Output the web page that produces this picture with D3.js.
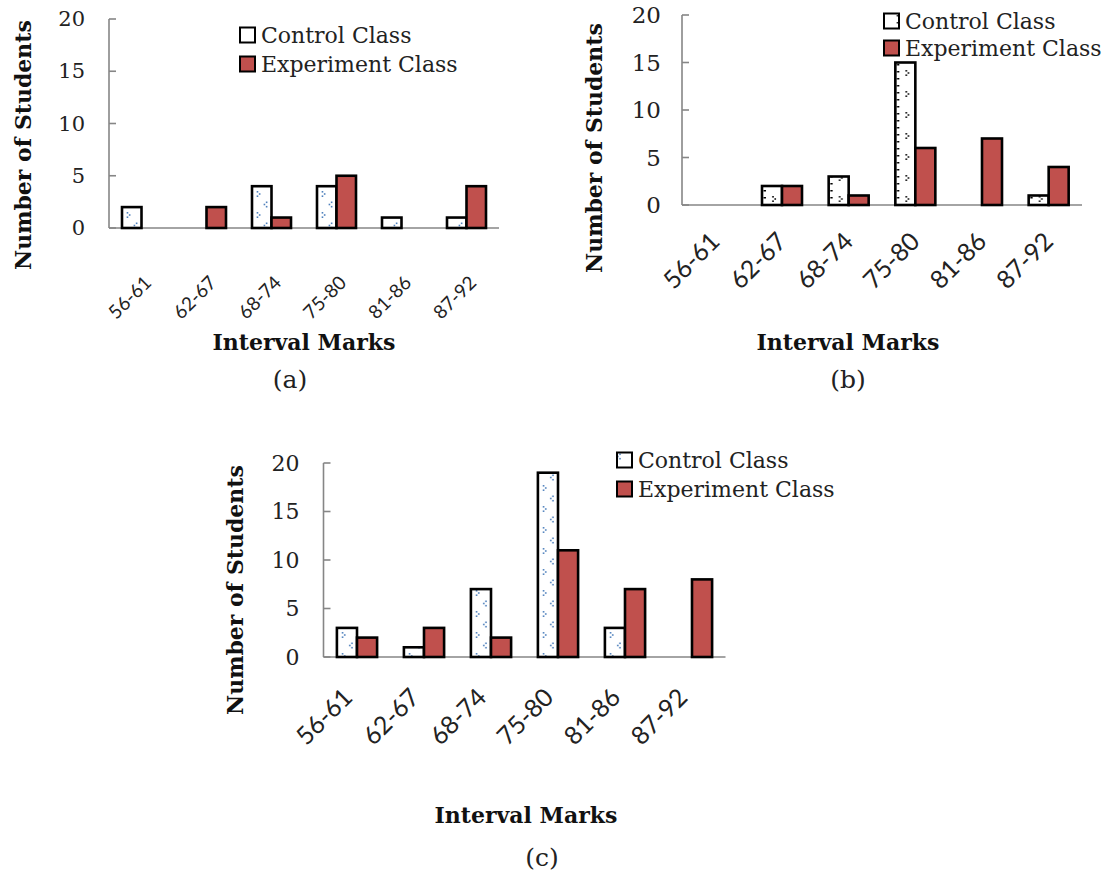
<!DOCTYPE html>
<html><head><meta charset="utf-8">
<script src="https://cdn.jsdelivr.net/npm/d3@7"></script>
<style>
  body { margin: 0; background: #fff; }
  svg { display: block; }
</style>
</head><body>
<svg id="chart" width="1109" height="884"></svg>
<script>
// Score intervals and student counts for the three class comparisons
const intervals = ["56-61", "62-67", "68-74", "75-80", "81-86", "87-92"];
const yTicks = [0, 5, 10, 15, 20];
const seriesNames = ["Control Class", "Experiment Class"];
const panelTags = ["(a)", "(b)", "(c)"];
const yTitle = "Number of Students";
const xTitle = "Interval Marks";

const controlA = [2, 0, 4, 4, 1, 1];
const experimentA = [0, 2, 1, 5, 0, 4];
const controlB = [0, 2, 3, 15, 0, 1];
const experimentB = [0, 2, 1, 6, 7, 4];
const controlC = [3, 1, 7, 19, 3, 0];
const experimentC = [2, 3, 2, 11, 7, 8];

// Panel geometry
const panels = [
  { control: controlA, experiment: experimentA, tag: panelTags[0],
    left: 109, right: 499, zero: 228, top: 19,
    tickFont: 19, tickDx: 11, tickDy: 56,
    yLabelGap: 24, yFont: 21, yTitleX: 23, yTitleY: 145,
    xTitleX: 304, xTitleY: 342, tagX: 290, tagY: 379,
    legX: 240, legY: [35, 64], dot: "#4f81bd", edgeMarks: false },
  { control: controlB, experiment: experimentB, tag: panelTags[1],
    left: 682, right: 1082, zero: 205, top: 15,
    tickFont: 25, tickDx: 6, tickDy: 38,
    yLabelGap: 21, yFont: 23, yTitleX: 594, yTitleY: 148,
    xTitleX: 848, xTitleY: 342, tagX: 848, tagY: 379,
    legX: 884, legY: [21, 48], dot: "#000", edgeMarks: true },
  { control: controlC, experiment: experimentC, tag: panelTags[2],
    left: 323.5, right: 725.5, zero: 657, top: 463,
    tickFont: 25, tickDx: -3, tickDy: 42,
    yLabelGap: 24, yFont: 22, yTitleX: 235, yTitleY: 590,
    xTitleX: 526, xTitleY: 815, tagX: 542, tagY: 857,
    legX: 617, legY: [460, 489], dot: "#4f81bd", edgeMarks: false }
];

const serif = "'DejaVu Serif', 'Liberation Serif', serif";
const sans = "Lato, 'Liberation Sans', sans-serif";
const expFill = "#c0504d";
const axisColor = "#868686";

const svg = d3.select("#chart");
const defs = svg.append("defs");

panels.forEach((p, pi) => {
  const x = d3.scaleBand().domain(intervals).range([p.left, p.right])
    .paddingInner(0.4).paddingOuter(0.2);
  const y = d3.scaleLinear().domain([0, 20]).range([p.zero, p.top]);
  const bw = x.bandwidth() / 2;
  const step = x.step();

  // Sparse dotted fill used for the control bars
  const pid = "dots" + pi;
  const pat = defs.append("pattern").attr("id", pid)
    .attr("patternUnits", "userSpaceOnUse")
    .attr("x", x(intervals[0])).attr("y", 0)
    .attr("width", step).attr("height", 21);
  pat.append("rect").attr("width", step).attr("height", 21).attr("fill", "#fff");
  const chevron = (cx, cy, dir) => {
    [[cx, cy - 2.2], [cx + 2.2 * dir, cy], [cx, cy + 2.2]].forEach(([a, b]) =>
      pat.append("rect").attr("x", a - 0.8).attr("y", b - 0.8)
        .attr("width", 1.6).attr("height", 1.6).attr("fill", p.dot));
  };
  if (p.edgeMarks) {
    [1, 8, 15].forEach(v => pat.append("rect").attr("x", 1.5).attr("y", v)
      .attr("width", 2.5).attr("height", 1.5).attr("fill", p.dot));
    chevron(bw * 0.55, 10, 1);
  } else {
    chevron(bw * 0.28, 5, 1);
    chevron(bw * 0.75, 15.5, -1);
  }

  const g = svg.append("g");

  // Axes
  g.append("line").attr("x1", p.left).attr("x2", p.right)
    .attr("y1", y(0)).attr("y2", y(0))
    .attr("stroke", axisColor).attr("stroke-width", 1.6);
  g.append("line").attr("x1", p.left).attr("x2", p.left)
    .attr("y1", y(0)).attr("y2", y(20))
    .attr("stroke", axisColor).attr("stroke-width", 1.6);
  g.selectAll(".ytick").data(yTicks).join("line")
    .attr("x1", p.left).attr("x2", p.left + 7)
    .attr("y1", d => y(d)).attr("y2", d => y(d))
    .attr("stroke", axisColor).attr("stroke-width", 1.6);
  g.selectAll(".ylab").data(yTicks).join("text")
    .attr("x", p.left - p.yLabelGap).attr("y", d => y(d))
    .attr("text-anchor", "end").attr("dominant-baseline", "central")
    .attr("font-family", serif).attr("font-size", p.yFont).attr("fill", "#222")
    .text(d => d);

  // Bars
  const bars = intervals.flatMap((c, i) => [
    { c, k: 0, v: p.control[i] },
    { c, k: 1, v: p.experiment[i] }
  ]).filter(d => d.v > 0);
  g.selectAll(".bar").data(bars).join("rect")
    .attr("x", d => x(d.c) + d.k * bw)
    .attr("y", d => y(d.v))
    .attr("width", bw)
    .attr("height", d => y(0) - y(d.v))
    .attr("fill", d => d.k === 0 ? `url(#${pid})` : expFill)
    .attr("stroke", "#000").attr("stroke-width", 2.6);

  // Category labels
  g.selectAll(".xlab").data(intervals).join("text")
    .attr("transform", d => `translate(${x(d) + x.bandwidth() / 2 + p.tickDx},${y(0) + p.tickDy}) rotate(-45)`)
    .attr("text-anchor", "end")
    .attr("font-family", sans).attr("font-size", p.tickFont).attr("fill", "#222")
    .text(d => d);

  // Axis titles
  g.append("text")
    .attr("transform", `translate(${p.yTitleX},${p.yTitleY}) rotate(-90)`)
    .attr("text-anchor", "middle").attr("dominant-baseline", "central")
    .attr("font-family", serif).attr("font-weight", "bold").attr("font-size", 22)
    .attr("fill", "#111").text(yTitle);
  g.append("text").attr("x", p.xTitleX).attr("y", p.xTitleY)
    .attr("text-anchor", "middle").attr("dominant-baseline", "central")
    .attr("font-family", serif).attr("font-weight", "bold").attr("font-size", 22)
    .attr("fill", "#111").text(xTitle);
  g.append("text").attr("x", p.tagX).attr("y", p.tagY)
    .attr("text-anchor", "middle").attr("dominant-baseline", "central")
    .attr("font-family", serif).attr("font-size", 25)
    .attr("fill", "#222").text(p.tag);

  // Legend
  seriesNames.forEach((name, k) => {
    g.append("rect").attr("x", p.legX).attr("y", p.legY[k] - 7.5)
      .attr("width", 15).attr("height", 15)
      .attr("fill", k === 0 ? `url(#${pid})` : expFill)
      .attr("stroke", "#000").attr("stroke-width", 2);
    g.append("text").attr("x", p.legX + 21).attr("y", p.legY[k])
      .attr("dominant-baseline", "central")
      .attr("font-family", serif).attr("font-size", 22).attr("fill", "#222")
      .text(name);
  });
});
</script>
</body></html>
